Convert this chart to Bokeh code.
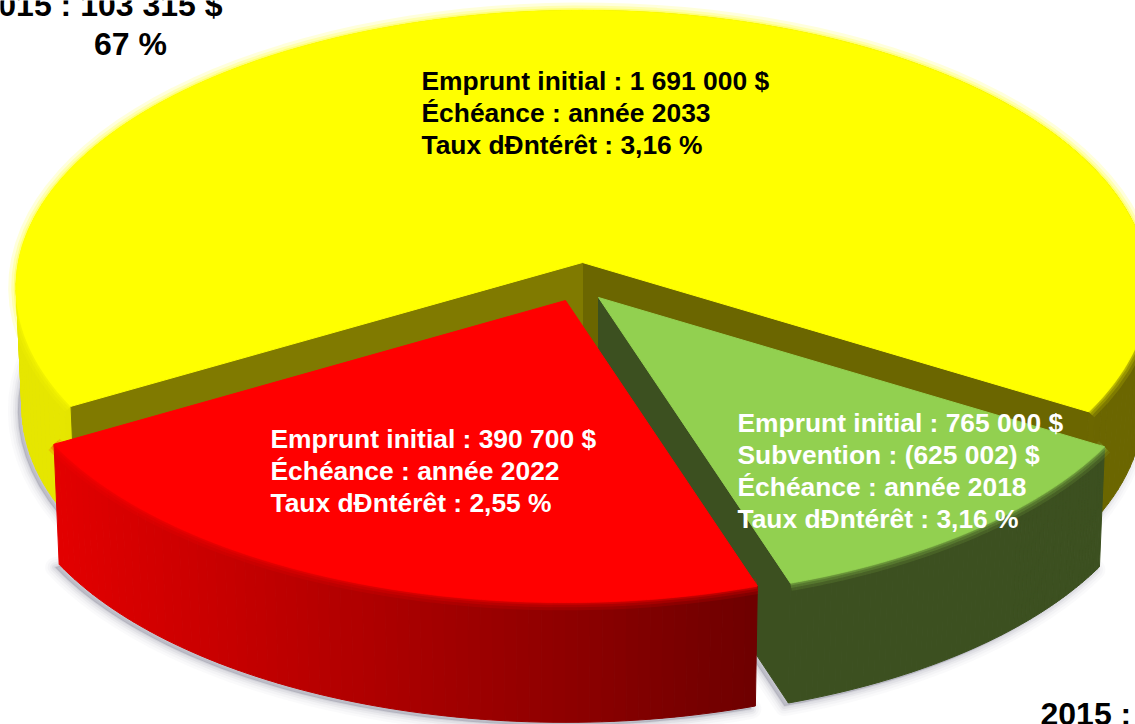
import numpy as np
from bokeh.plotting import figure
from bokeh.models import Range1d
from bokeh.core.properties import value
from bokeh.embed import file_html
from bokeh.resources import INLINE

# ---- data ----
slice_names = ["Emprunt 2022", "Emprunt 2018", "Emprunt 2033"]
slice_shares = [21.7, 11.3, 67.0]

red_lines = ["Emprunt initial : 390 700 $", "Échéance : année 2022", "Taux dÐntérêt : 2,55 %"]
green_lines = ["Emprunt initial : 765 000 $", "Subvention : (625 002) $", "Échéance : année 2018", "Taux dÐntérêt : 3,16 %"]
yellow_lines = ["Emprunt initial : 1 691 000 $", "Échéance : année 2033", "Taux dÐntérêt : 3,16 %"]
note_top = ["2015 : 103 315 $", "67 %"]
note_bottom = ["2015 :"]

# ---- styles ----
W, H = 1135, 724
START = -60.0
K, A, B = 0.09, 564.0, 274.7
DEPTH, BOTTOM_SCALE = 120.0, 0.99
FONT = "Liberation Sans"

apex = {"red": (565, 300), "green": (598, 297), "yellow": (582, 262)}
top_col = {"red": "#ff0000", "green": "#92d050", "yellow": "#ffff00"}
side_l = {"red": (226, 0, 0), "green": (60, 80, 32), "yellow": (230, 230, 0)}
side_r = {"red": (110, 0, 0), "green": (60, 80, 32), "yellow": (107, 102, 0)}
wall_col = {"red": "#6e0000", "green": "#3c5020"}
YELLOW_WALL_L, YELLOW_WALL_R = "#807a00", "#6b6600"

p = figure(width=W, height=H, x_range=Range1d(0, W), y_range=Range1d(H, 0),
           output_backend="svg", toolbar_location=None, min_border=0,
           outline_line_color=None, background_fill_color="white")
p.axis.visible = False
p.grid.visible = False


def rim(key, t0, t1, n=80, bottom=False):
    X0, Y0 = apex[key]
    th = np.radians(np.linspace(t0, t1, n))
    u, v = np.sin(th), np.cos(th)
    d = 1 - K * v
    x, y = A * u / d, B * v / d
    if bottom:
        return X0 + BOTTOM_SCALE * x, Y0 + y + DEPTH
    return X0 + x, Y0 + y


def hexcol(c):
    return "#%02x%02x%02x" % tuple(int(round(i)) for i in c)


spans = {}
cur = START
for key, share in zip(["red", "green", "yellow"], slice_shares):
    spans[key] = (cur, cur + share * 3.6)
    cur += share * 3.6

# soft shadow: only the pie's lower outline, shifted left and down
for lw, al in [(20, .03), (15, .04), (10, .06), (6, .08), (2, .10)]:
    for key in ["yellow", "red", "green"]:
        t0, t1 = spans[key]
        bx, by = rim(key, t0, t1, bottom=True)
        X0, Y0 = apex[key]
        px = np.r_[X0, bx] - 4
        py = np.r_[Y0 + DEPTH, by] + 3
        p.patch(px, py, fill_color="#6a6c7c", fill_alpha=al, line_color="#6a6c7c",
                line_alpha=al, line_width=lw, line_join="round")


def outer_side(key):
    t0, t1 = spans[key]
    n = 160 if key == "yellow" else 70
    tx, ty = rim(key, t0, t1, n)
    bx, by = rim(key, t0, t1, n, bottom=True)
    xs, ys, cols = [], [], []
    xmin, xmax = (60, 755) if key == "red" else (60, 1100)
    for i in range(n - 1):
        xs.append([tx[i], tx[i + 1], bx[i + 1], bx[i]])
        ys.append([ty[i], ty[i + 1], by[i + 1], by[i]])
        f = np.clip(((tx[i] + tx[i + 1]) / 2 - xmin) / (xmax - xmin), 0, 1)
        cols.append(hexcol(np.array(side_l[key]) * (1 - f) + np.array(side_r[key]) * f))
    p.patches(xs, ys, fill_color=cols, line_color=cols, line_width=1)


def bevel(key):
    t0, t1 = spans[key]
    tx, ty = rim(key, t0, t1)
    for lw, al in [(16, .14), (10, .2), (5, .3), (2, .4)]:
        p.line(tx, ty, line_color=top_col[key], line_alpha=al, line_width=lw)


def cut_wall(key, t, col):
    X0, Y0 = apex[key]
    tx, ty = rim(key, t, t, 1)
    bx, by = rim(key, t, t, 1, bottom=True)
    p.patch([X0, tx[0], bx[0], X0], [Y0, ty[0], by[0], Y0 + DEPTH],
            fill_color=col, line_color=col, line_width=1)


def top_face(key):
    t0, t1 = spans[key]
    X0, Y0 = apex[key]
    tx, ty = rim(key, t0, t1, 200)
    p.patch(np.r_[X0, tx], np.r_[Y0, ty], fill_color=top_col[key],
            line_color=top_col[key], line_width=1)


# yellow slice (back)
outer_side("yellow")
cut_wall("yellow", spans["yellow"][0], YELLOW_WALL_R)
cut_wall("yellow", spans["yellow"][1], YELLOW_WALL_L)
bevel("yellow")
top_face("yellow")
# green slice
outer_side("green")
cut_wall("green", spans["green"][0], wall_col["green"])
bevel("green")
top_face("green")
# red slice (front)
outer_side("red")
bevel("red")
top_face("red")


def block(lines, x, first, step, color, size, align="left"):
    for i, s in enumerate(lines):
        p.text(x=[x], y=[first + i * step], text=[s], text_color=color,
               text_font=value(FONT), text_font_style="bold",
               text_font_size=size, text_align=align, text_baseline="alphabetic")


block(yellow_lines, 421, 80, 32, "#000000", "26.4px")
block(red_lines, 270, 438, 32, "#ffffff", "26.4px")
block(green_lines, 737, 422, 32, "#ffffff", "26.4px")
block(note_top[:1], 222, 4, 0, "#000000", "32px", "right")
block(note_top[1:], 130, 43, 0, "#000000", "32px", "center")
block(note_bottom, 1040, 713, 0, "#000000", "32px")

open("out.html", "w").write(file_html(p, INLINE))
